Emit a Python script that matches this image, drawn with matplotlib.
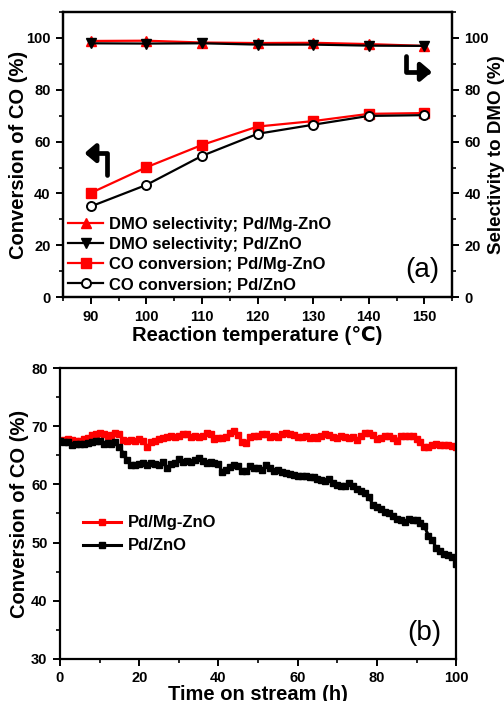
import matplotlib
matplotlib.use("Agg")
import matplotlib.pyplot as plt
from matplotlib.ticker import MultipleLocator

plt.rcParams['font.family'] = ['Liberation Sans', 'DejaVu Sans']
plt.rcParams['font.weight'] = 'bold'

# ---------- Panel (a) data ----------
temps = [90, 100, 110, 120, 130, 140, 150]
sel_pdmg = [98.8, 98.9, 98.2, 98.0, 98.1, 97.6, 96.9]
sel_pd = [97.9, 97.8, 97.9, 97.4, 97.4, 97.0, 96.9]
conv_pdmg = [40.2, 50.1, 58.7, 65.8, 67.9, 70.7, 71.0]
conv_pd = [35.0, 43.3, 54.5, 63.0, 66.5, 69.9, 70.2]

# ---------- Panel (b) data ----------
time_h = list(range(0, 101))
stab_pdmg = [67.5, 67.6, 67.8, 67.6, 67.4, 67.5, 67.8, 68.0, 68.5, 68.7,
             68.8, 68.6, 68.4, 68.5, 68.8, 68.7, 67.6, 67.5, 67.6, 67.4,
             67.8, 67.5, 66.5, 67.2, 67.5, 67.8, 68.0, 68.2, 68.3, 68.2,
             68.4, 68.7, 68.6, 68.2, 68.3, 68.1, 68.4, 68.8, 68.6, 67.8,
             67.9, 68.0, 68.2, 68.8, 69.1, 68.5, 67.2, 67.1, 68.2, 68.4,
             68.3, 68.6, 68.7, 68.2, 68.3, 68.1, 68.6, 68.9, 68.7, 68.5,
             68.2, 68.1, 68.3, 68.0, 68.2, 68.0, 68.3, 68.6, 68.5, 68.2,
             67.9, 68.3, 68.2, 67.9, 68.1, 67.7, 68.4, 68.8, 68.9, 68.5,
             67.8, 68.0, 68.3, 68.4, 67.9, 67.5, 68.3, 68.4, 68.3, 68.4,
             67.8, 67.2, 66.5, 66.4, 66.7, 66.9, 66.8, 66.7, 66.7, 66.6,
             66.4]
stab_pd = [67.4, 67.2, 67.3, 66.8, 66.9, 67.0, 66.9, 67.1, 67.3, 67.5,
           67.4, 67.0, 67.1, 67.0, 67.3, 66.5, 65.3, 64.2, 63.4, 63.3,
           63.5, 63.6, 63.3, 63.7, 63.5, 63.3, 63.8, 62.8, 63.5, 63.6,
           64.4, 63.9, 64.0, 63.9, 64.2, 64.6, 64.0, 63.6, 63.8, 63.7,
           63.5, 62.1, 62.4, 63.0, 63.3, 63.1, 62.3, 62.3, 63.1, 62.9,
           62.8, 62.4, 63.3, 62.9, 62.3, 62.4, 62.2, 62.0, 61.8, 61.6,
           61.5, 61.4, 61.5, 61.2, 61.3, 61.0, 60.8, 60.6, 60.9, 60.3,
           59.9, 59.7, 59.7, 60.2, 59.8, 59.2, 58.8, 58.5, 57.8, 56.5,
           56.2, 55.8, 55.3, 55.0, 54.6, 54.0, 53.8, 53.6, 54.1, 53.9,
           53.8, 53.4, 52.8, 51.2, 50.5, 49.0, 48.6, 48.0, 47.8, 47.6,
           46.3]

fig = plt.figure(figsize=(5.04, 7.01), dpi=100)
LAB = 14.5
TICK = 10.5


def style_axis(ax):
    for s in ax.spines.values():
        s.set_linewidth(1.6)
    ax.tick_params(which='major', direction='out', length=5, width=1.4,
                   labelsize=TICK, pad=4)
    ax.tick_params(which='minor', direction='out', length=3, width=1.2)


# ---------- Panel (a) ----------
ax1 = fig.add_axes([0.125, 0.576, 0.772, 0.407])
ax2 = ax1.twinx()
l3, = ax1.plot(temps, conv_pdmg, color='red', marker='s', ms=6.5, lw=1.6,
               label='CO conversion; Pd/Mg-ZnO')
l4, = ax1.plot(temps, conv_pd, color='black', marker='o', ms=6.5, lw=1.6,
               mfc='white', mec='black', mew=1.4,
               label='CO conversion; Pd/ZnO')
l1, = ax2.plot(temps, sel_pdmg, color='red', marker='^', ms=7.5, lw=1.6,
               label='DMO selectivity; Pd/Mg-ZnO')
l2, = ax2.plot(temps, sel_pd, color='black', marker='v', ms=7.5, lw=1.6,
               label='DMO selectivity; Pd/ZnO')
for ax in (ax1, ax2):
    ax.set_xlim(85, 155)
    ax.set_ylim(0, 110)
    ax.yaxis.set_major_locator(MultipleLocator(20))
    ax.yaxis.set_minor_locator(MultipleLocator(10))
ax1.set_xticks(temps)
ax1.xaxis.set_minor_locator(MultipleLocator(5))
style_axis(ax1)
style_axis(ax2)
ax1.tick_params(top=False, right=False)
ax2.tick_params(left=False)
ax1.set_ylabel('Conversion of CO (%)', fontsize=LAB, fontweight='bold',
               labelpad=-1.5)
ax2.set_ylabel('Selectivity to DMO (%)', fontsize=13.5, fontweight='bold',
               labelpad=-1)
ax1.set_xlabel('Reaction temperature (\u2103)', fontsize=LAB,
               fontweight='bold', labelpad=1.5)
ax2.legend(handles=[l1, l2, l3, l4], loc='lower left', frameon=False,
           prop={'weight': 'bold', 'size': 12},
           handlelength=2.1, handletextpad=0.35, labelspacing=0.3,
           borderaxespad=0.0, borderpad=0.3, bbox_to_anchor=(0.0, 0.0))
ax2.text(0.923, 0.095, '(a)', transform=ax2.transAxes, fontsize=20,
         fontweight='normal', ha='center', va='center')
arrow_kw = dict(arrowstyle='-|>,head_length=0.65,head_width=0.55', lw=3.4,
                color='black', shrinkA=0, shrinkB=0,
                connectionstyle='angle,angleA=90,angleB=0,rad=0')
ax2.annotate('', xy=(0.055, 0.505), xytext=(0.113, 0.43),
             xycoords='axes fraction', textcoords='axes fraction',
             arrowprops=arrow_kw)
ax2.annotate('', xy=(0.948, 0.79), xytext=(0.882, 0.845),
             xycoords='axes fraction', textcoords='axes fraction',
             arrowprops=arrow_kw)

# ---------- Panel (b) ----------
ax3 = fig.add_axes([0.119, 0.060, 0.786, 0.415])
ax3.plot(time_h, stab_pdmg, color='red', marker='s', ms=4.5, lw=2.2,
         label='Pd/Mg-ZnO')
ax3.plot(time_h, stab_pd, color='black', marker='s', ms=4.5, lw=2.2,
         label='Pd/ZnO')
ax3.set_xlim(0, 100)
ax3.set_ylim(30, 80)
ax3.xaxis.set_major_locator(MultipleLocator(20))
ax3.xaxis.set_minor_locator(MultipleLocator(10))
ax3.yaxis.set_major_locator(MultipleLocator(10))
ax3.yaxis.set_minor_locator(MultipleLocator(5))
style_axis(ax3)
ax3.tick_params(top=False, right=False)
ax3.set_ylabel('Conversion of CO (%)', fontsize=LAB, fontweight='bold',
               labelpad=1.5)
ax3.set_xlabel('Time on stream (h)', fontsize=LAB, fontweight='bold',
               labelpad=0)
ax3.legend(loc='upper left', bbox_to_anchor=(0.02, 0.545), frameon=False,
           prop={'weight': 'bold', 'size': 12}, handlelength=2.3,
           handletextpad=0.4, labelspacing=0.48)
ax3.text(0.919, 0.089, '(b)', transform=ax3.transAxes, fontsize=20,
         fontweight='normal', ha='center', va='center')

fig.canvas.draw()
for ax in (ax1, ax2, ax3):
    for lab in ax.get_xticklabels() + ax.get_yticklabels():
        lab.set_fontweight('bold')

fig.savefig('out.png', dpi=100)
